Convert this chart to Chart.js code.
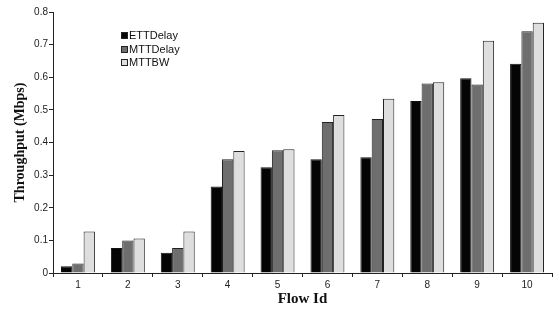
<!DOCTYPE html>
<html><head><meta charset="utf-8">
<script src="https://cdn.jsdelivr.net/npm/chart.js@4/dist/chart.umd.min.js"></script>
<style>
html,body{margin:0;padding:0;background:#fff;}
#wrap{position:relative;width:553px;height:310px;}
#legend{position:absolute;left:121px;top:29px;font-family:"Liberation Sans",Arial,sans-serif;font-size:11px;color:#111;line-height:13.5px;}
#legend div{display:flex;align-items:center;height:13.5px;}
#legend span.sw{display:inline-block;width:5px;height:5px;border:1px solid #222;margin-right:1px;}
</style></head>
<body><div id="wrap"><canvas id="c" width="553" height="310"></canvas><div id="legend"></div></div>
<script>
const categories = ["1","2","3","4","5","6","7","8","9","10"];
const seriesNames = ["ETTDelay","MTTDelay","MTTBW"];
const ettDelay = [0.021,0.077,0.062,0.265,0.324,0.349,0.355,0.527,0.597,0.641];
const mttDelay = [0.029,0.100,0.077,0.349,0.376,0.463,0.472,0.581,0.578,0.741];
const mttBW    = [0.127,0.106,0.127,0.374,0.379,0.484,0.534,0.585,0.712,0.767];
const yTicks = [0,0.1,0.2,0.3,0.4,0.5,0.6,0.7,0.8];
const colors = ["#050505","#6e6e6e","#dedede"];

const lg = document.getElementById('legend');
seriesNames.forEach((n,i)=>{
  const d=document.createElement('div');
  d.innerHTML='<span class="sw" style="background:'+colors[i]+'"></span>'+n;
  lg.appendChild(d);
});

const tickFont = {family:"Liberation Sans, Arial, sans-serif", size:10};
const titleFont = {family:"Liberation Serif, Times New Roman, serif", size:14, weight:"bold"};
new Chart(document.getElementById('c'), {
  type:'bar',
  data:{labels:categories, datasets:[
    {label:seriesNames[0], data:ettDelay, backgroundColor:colors[0], borderColor:"#111", borderWidth:1},
    {label:seriesNames[1], data:mttDelay, backgroundColor:colors[1], borderColor:"#222", borderWidth:1},
    {label:seriesNames[2], data:mttBW, backgroundColor:colors[2], borderColor:"#222", borderWidth:1}
  ]},
  options:{
    responsive:false, animation:false, devicePixelRatio:1,
    layout:{padding:{top:12, right:1, left:12, bottom:2}},
    plugins:{legend:{display:false}, tooltip:{enabled:false}},
    datasets:{bar:{categoryPercentage:0.68, barPercentage:1.0}},
    scales:{
      x:{
        grid:{display:true, drawOnChartArea:false, drawTicks:true, tickLength:4, color:"#222", offset:true},
        border:{color:"#222", width:1},
        ticks:{font:tickFont, color:"#222", padding:2},
        title:{display:true, text:"Flow Id", font:{family:"Liberation Serif, Times New Roman, serif", size:15, weight:"bold"}, color:"#111", padding:{top:0,bottom:0}},
        afterFit:(s)=>{s.height=35;}
      },
      y:{
        min:0, max:0.8,
        afterBuildTicks:(s)=>{s.ticks=yTicks.map(v=>({value:v}));},
        grid:{display:true, drawOnChartArea:false, drawTicks:true, tickLength:4, color:"#222"},
        border:{color:"#222", width:1},
        ticks:{font:tickFont, color:"#222", padding:1, callback:(v)=> v===0?"0":v.toFixed(1)},
        title:{display:true, text:"Throughput (Mbps)", font:titleFont, color:"#111", padding:{top:0,bottom:4}},
        afterFit:(s)=>{s.width=41;}
      }
    }
  }
});
</script></body></html>
